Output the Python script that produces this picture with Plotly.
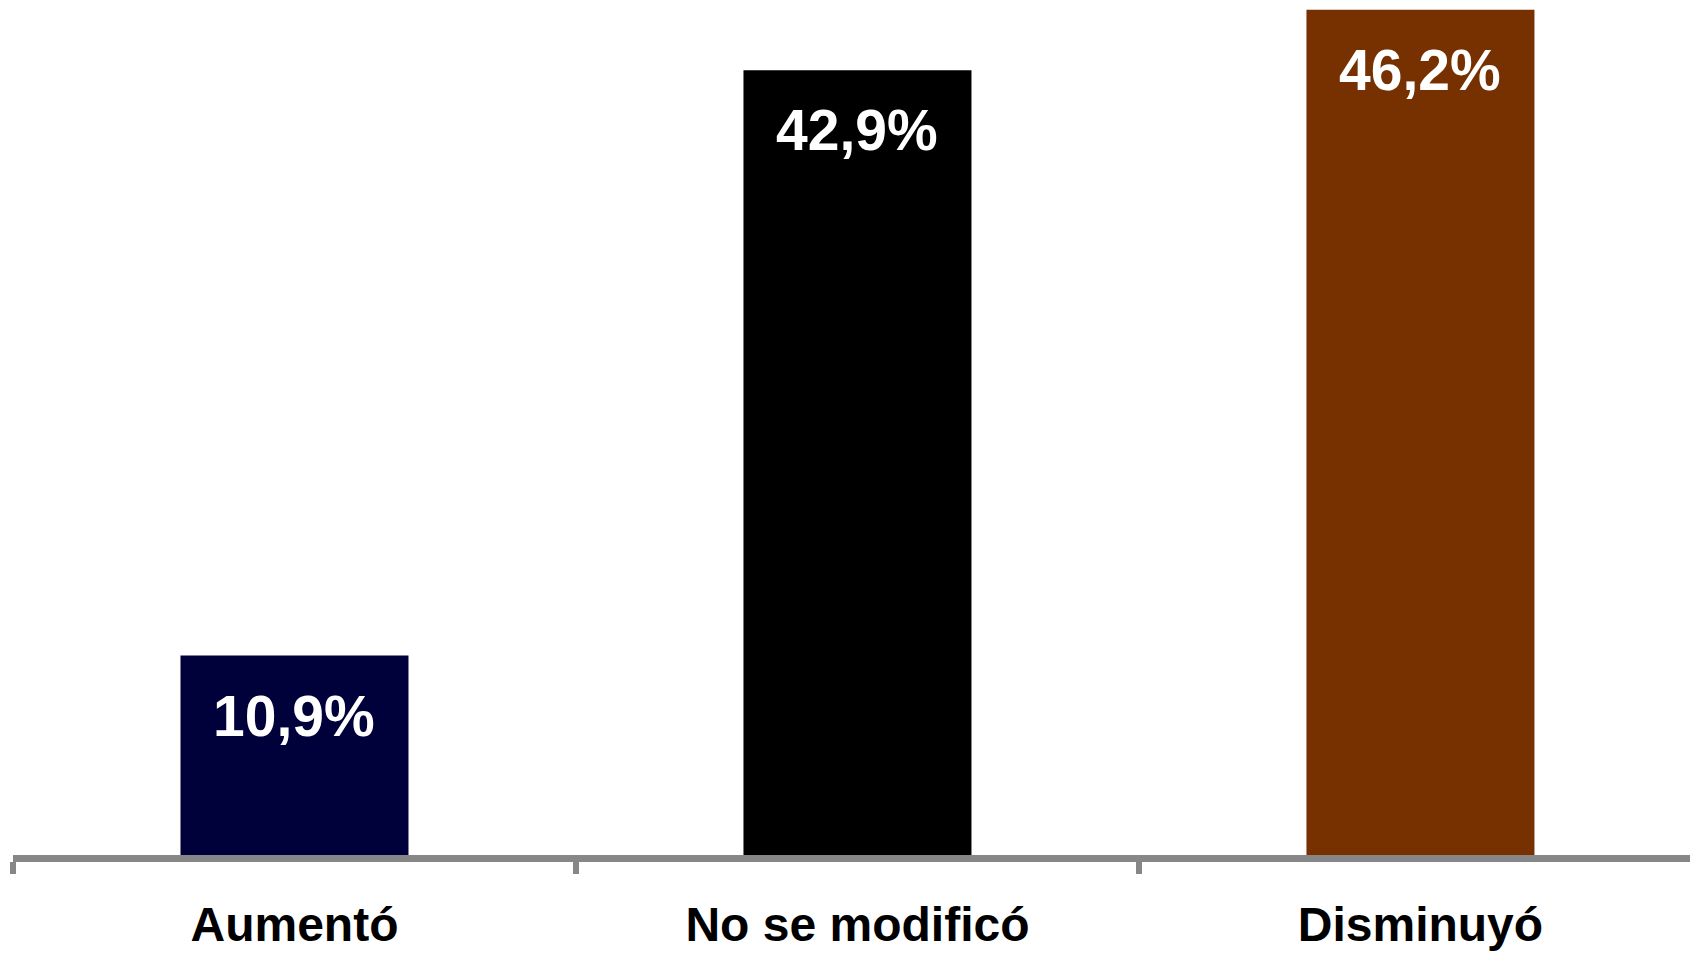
import plotly.graph_objects as go

categorias = ["Aumentó", "No se modificó", "Disminuyó"]
valores = [10.9, 42.9, 46.2]
etiquetas = ["10,9%", "42,9%", "46,2%"]
colores = ["#00003a", "#000000", "#773000"]

fig = go.Figure()
fig.add_trace(go.Bar(x=categorias, y=valores, marker=dict(color=colores, line=dict(width=0)),
                     hoverinfo="skip"))

# etiquetas de valor dentro de cada barra, cerca del borde superior
for c, v, t in zip(categorias, valores, etiquetas):
  fig.add_annotation(x=c, y=v, text=t, showarrow=False, yanchor="middle", yshift=-60,
                     font=dict(family="Liberation Sans, Arial", size=57, color="white", weight="bold"))

fig.update_layout(
  width=1690, height=945,
  margin=dict(l=5, r=0, t=0, b=98),
  paper_bgcolor="white", plot_bgcolor="white",
  bargap=0.595,
  showlegend=False,
  xaxis=dict(showline=True, linecolor="#878787", linewidth=7, automargin=False,
             ticks="outside", tickson="boundaries", ticklen=12, tickwidth=6, tickcolor="#878787",
             tickfont=dict(family="Liberation Sans, Arial", size=48, color="black", weight="bold"),
             ticklabelstandoff=21, range=[-0.5, 2.493], showgrid=False),
  yaxis=dict(range=[0, 46.3], visible=False, showgrid=False, zeroline=False, automargin=False),
)

fig.write_html("out.html")
